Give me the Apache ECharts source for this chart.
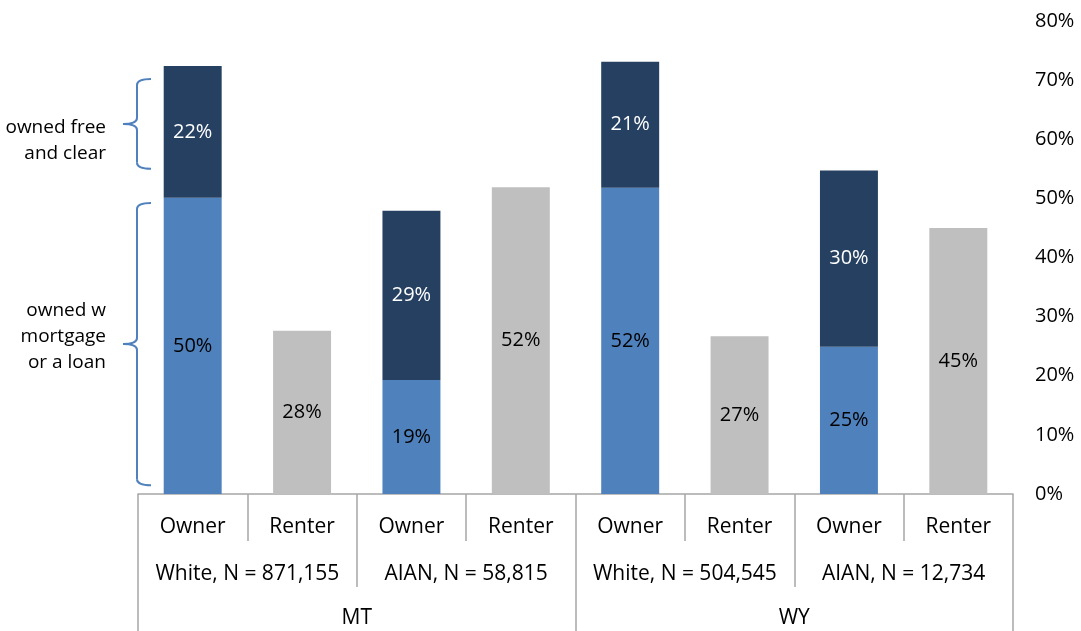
<!DOCTYPE html>
<html>
<head>
<meta charset="utf-8">
<script src="https://cdn.jsdelivr.net/npm/echarts@6/dist/echarts.min.js"></script>
<style>
  html, body { margin: 0; padding: 0; background: #fff; }
  #chart { width: 1081px; height: 631px; }
</style>
</head>
<body>
<div id="chart"></div>
<script>
// data
const tenures = ['Owner', 'Renter', 'Owner', 'Renter', 'Owner', 'Renter', 'Owner', 'Renter'];
const groups = ['White, N = 871,155', 'AIAN, N = 58,815', 'White, N = 504,545', 'AIAN, N = 12,734'];
const states = ['MT', 'WY'];
const mortgage = [50.1, '-', 19.3, '-', 51.8, '-', 24.9, '-'];
const freeClear = [22.3, '-', 28.6, '-', 21.3, '-', 29.8, '-'];
const renter = ['-', 27.6, '-', 51.9, '-', 26.7, '-', 45.0];
const yMin = 0, yMax = 80, yStep = 10;

const FONT = '"Open Sans", "Liberation Sans", sans-serif';
const AXIS_GRAY = '#A6A6A6';
const BRACE_BLUE = '#4F81BD';

const chart = echarts.init(document.getElementById('chart'));

const pct = p => Math.round(p.value) + '%';

// one x axis per label level, all stacked at the bottom
const levelAxis = (data, tickLen, margin, showLine) => ({
  type: 'category',
  gridIndex: 0,
  position: 'bottom',
  offset: 0,
  data: data,
  axisLine: { show: showLine, lineStyle: { color: AXIS_GRAY, width: 1.5 } },
  axisTick: { show: true, interval: 0, length: tickLen, lineStyle: { color: AXIS_GRAY, width: 1.5 } },
  axisLabel: { interval: 0, margin: margin, color: '#000', fontSize: 21, fontFamily: FONT },
  splitLine: { show: false }
});

const barLabel = color => ({
  show: true, position: 'inside', formatter: pct, color: color, fontSize: 20, fontFamily: FONT
});

const option = {
  animation: false,
  grid: { left: 138, right: 68, top: 21, bottom: 137, outerBoundsMode: 'none' },
  xAxis: [
    levelAxis(tenures, 47, 23, true),
    levelAxis(groups, 93, 70, false),
    levelAxis(states, 140, 114, false)
  ],
  yAxis: {
    type: 'value',
    position: 'right',
    min: yMin,
    max: yMax,
    interval: yStep,
    axisLine: { show: false },
    axisTick: { show: false },
    splitLine: { show: false },
    axisLabel: { margin: 22, color: '#000', fontSize: 20, fontFamily: FONT, formatter: '{value}%' }
  },
  series: [
    {
      name: 'owned w mortgage or a loan',
      type: 'bar',
      stack: 'tenure',
      barWidth: '53%',
      data: mortgage,
      itemStyle: { color: '#4F81BD' },
      label: barLabel('#000')
    },
    {
      name: 'owned free and clear',
      type: 'bar',
      stack: 'tenure',
      barWidth: '53%',
      data: freeClear,
      itemStyle: { color: '#254061' },
      label: barLabel('#fff')
    },
    {
      name: 'renter',
      type: 'bar',
      stack: 'tenure',
      barWidth: '53%',
      data: renter,
      itemStyle: { color: '#BFBFBF' },
      label: barLabel('#000')
    }
  ]
};

chart.setOption(option);

// brace annotations on the left, placed in value space
const braces = [
  { from: 70.2, to: 55.0, textAt: 59.8, text: 'owned free\nand clear' },
  { from: 49.2, to: 1.5, textAt: 26.7, text: 'owned w\nmortgage\nor a loan' }
];
const toY = v => chart.convertToPixel({ yAxisIndex: 0 }, v);
const xv = 137, xt = 123, xe = 151, r = 6;
const stroke = { stroke: BRACE_BLUE, lineWidth: 2, fill: null };

const seg = (x1, y1, x2, y2) => ({ type: 'line', shape: { x1, y1, x2, y2 }, style: stroke });
const curve = (x1, y1, cpx1, cpy1, x2, y2) => ({
  type: 'bezierCurve', shape: { x1, y1, cpx1, cpy1, x2, y2 }, style: stroke
});

const graphics = [];
braces.forEach(b => {
  const y1 = toY(b.from), y2 = toY(b.to), ym = (y1 + y2) / 2;
  graphics.push(
    curve(xe, y1, xv, y1, xv, y1 + r),
    seg(xv, y1 + r, xv, ym - r),
    curve(xv, ym - r, xv, ym, xt, ym),
    curve(xt, ym, xv, ym, xv, ym + r),
    seg(xv, ym + r, xv, y2 - r),
    curve(xv, y2 - r, xv, y2, xe, y2)
  );
  graphics.push({
    type: 'text',
    style: {
      text: b.text, x: 106, y: toY(b.textAt), align: 'right', verticalAlign: 'middle',
      fontSize: 19, fontFamily: FONT, lineHeight: 26, fill: '#000'
    }
  });
});
chart.setOption({ graphic: graphics });
</script>
</body>
</html>
